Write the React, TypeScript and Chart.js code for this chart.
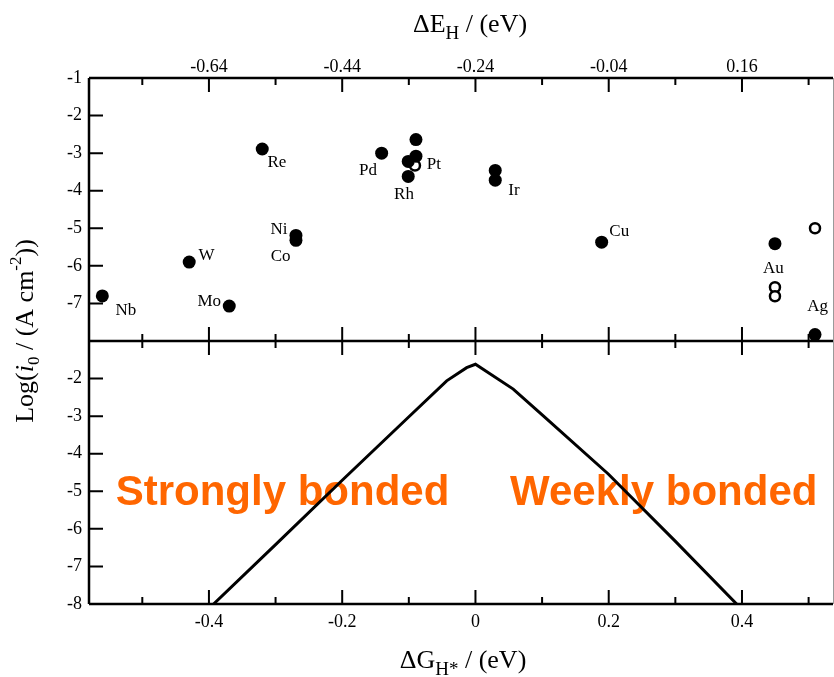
import React, { useEffect, useRef } from 'react';
import { Chart, registerables } from 'chart.js';

Chart.register(...registerables);

// ---- data ----
const filledDG = [-0.560, -0.4296, -0.3695, -0.320, -0.2694, -0.2694, -0.1408, -0.0893, -0.0893, -0.1009, -0.1009, 0.0297, 0.0297, 0.1894, 0.4495, 0.5096];
const filledLogI0 = [-6.8, -5.9, -7.07, -2.89, -5.19, -5.32, -3.0, -2.64, -3.08, -3.22, -3.62, -3.46, -3.72, -5.37, -5.41, -7.83];
const openDG = [-0.0908, 0.4495, 0.4495, 0.5096];
const openLogI0 = [-3.33, -6.57, -6.81, -5.0];

const metalLabels = ['Nb', 'W', 'Mo', 'Re', 'Ni', 'Co', 'Pd', 'Pt', 'Rh', 'Ir', 'Cu', 'Au', 'Ag'];
const metalLabelDG = [-0.5246, -0.4035, -0.3996, -0.2979, -0.2949, -0.2924, -0.1613, -0.0623, -0.1073, 0.0578, 0.2158, 0.447, 0.5136];
const metalLabelLogI0 = [-7.18, -5.73, -6.94, -3.24, -5.03, -5.74, -3.46, -3.31, -4.1, -4.0, -5.08, -6.08, -7.07];

const volcanoDG = [-0.393, -0.3, -0.1984, -0.0983, -0.0432, -0.0132, 0, 0.0567, 0.0993, 0.1993, 0.2994, 0.392];
const volcanoLogI0 = [-8.0, -6.42, -4.68, -2.99, -2.06, -1.71, -1.62, -2.28, -2.95, -4.54, -6.32, -8.0];

const regionTexts = ['Strongly bonded', 'Weekly bonded'];
const regionDG = [-0.54, 0.052];
const regionLogI0 = [-5.36, -5.36];

const xTicksBottom = [-0.4, -0.2, 0, 0.2, 0.4];
const xMinorBottom = [-0.5, -0.3, -0.1, 0.1, 0.3, 0.5];
const xTicksTop = [-0.64, -0.44, -0.24, -0.04, 0.16];
const xMinorTop = [-0.74, -0.54, -0.34, -0.14, 0.06, 0.26];
const yTicksTop = [-7, -6, -5, -4, -3, -2, -1];
const yTicksBottom = [-8, -7, -6, -5, -4, -3, -2];

const X_MIN = -0.58;
const X_MAX = 0.5366;
const E_SHIFT = 0.24;
const Y_MIN = -8;
const Y_MAX = -1;

const SERIF = '"Liberation Serif", "Times New Roman", serif';

type Part = { t: string; font: string; dy?: number };

function drawParts(ctx: CanvasRenderingContext2D, parts: Part[], cx: number, cy: number) {
  let total = 0;
  for (const p of parts) {
    ctx.font = p.font;
    total += ctx.measureText(p.t).width;
  }
  let x = cx - total / 2;
  ctx.textAlign = 'left';
  ctx.textBaseline = 'alphabetic';
  for (const p of parts) {
    ctx.font = p.font;
    ctx.fillText(p.t, x, cy + (p.dy || 0));
    x += ctx.measureText(p.t).width;
  }
}

const customPlugin = {
  id: 'volcanoDecor',
  beforeDatasetsDraw(chart: any) {
    const ctx: CanvasRenderingContext2D = chart.ctx;
    const x = chart.scales.x;
    const yb = chart.scales.yBot;
    ctx.save();
    ctx.fillStyle = '#FF6600';
    ctx.font = 'bold 42px "Liberation Sans", Arial, sans-serif';
    ctx.textAlign = 'left';
    ctx.textBaseline = 'alphabetic';
    regionTexts.forEach((t, i) => {
      ctx.fillText(t, x.getPixelForValue(regionDG[i]), yb.getPixelForValue(regionLogI0[i]));
    });
    ctx.restore();
  },
  afterDatasetsDraw(chart: any) {
    const ctx: CanvasRenderingContext2D = chart.ctx;
    const x = chart.scales.x;
    const yt = chart.scales.yTop;
    ctx.save();
    ctx.fillStyle = '#000';
    ctx.font = `17px ${SERIF}`;
    ctx.textAlign = 'center';
    ctx.textBaseline = 'middle';
    metalLabels.forEach((t, i) => {
      ctx.fillText(t, x.getPixelForValue(metalLabelDG[i]), yt.getPixelForValue(metalLabelLogI0[i]));
    });
    ctx.restore();
  },
  afterDraw(chart: any) {
    const ctx: CanvasRenderingContext2D = chart.ctx;
    const a = chart.chartArea;
    const x = chart.scales.x;
    const xt = chart.scales.xTop;
    const yt = chart.scales.yTop;
    const yb = chart.scales.yBot;
    const mid = yt.bottom;
    ctx.save();
    // right border
    ctx.strokeStyle = '#9a9a9a';
    ctx.lineWidth = 1;
    ctx.beginPath();
    ctx.moveTo(a.right + 0.5, a.top);
    ctx.lineTo(a.right + 0.5, a.bottom);
    ctx.stroke();
    // box lines
    ctx.strokeStyle = '#000';
    ctx.lineWidth = 2.5;
    ctx.beginPath();
    ctx.moveTo(a.left, a.top);
    ctx.lineTo(a.right, a.top);
    ctx.moveTo(a.left, mid);
    ctx.lineTo(a.right, mid);
    ctx.moveTo(a.left, a.bottom);
    ctx.lineTo(a.right, a.bottom);
    ctx.moveTo(a.left, a.top);
    ctx.lineTo(a.left, a.bottom);
    ctx.stroke();
    // inward ticks
    ctx.lineWidth = 2;
    ctx.beginPath();
    const major = 14;
    const minor = 7;
    const bottomTicks = (vals: number[], len: number) => {
      vals.forEach((v) => {
        const px = x.getPixelForValue(v);
        ctx.moveTo(px, a.bottom);
        ctx.lineTo(px, a.bottom - len);
        ctx.moveTo(px, mid);
        ctx.lineTo(px, mid - len);
        ctx.moveTo(px, mid);
        ctx.lineTo(px, mid + len);
      });
    };
    bottomTicks(xTicksBottom, major);
    bottomTicks(xMinorBottom, minor);
    const topTicks = (vals: number[], len: number) => {
      vals.forEach((v) => {
        const px = xt.getPixelForValue(v);
        ctx.moveTo(px, a.top);
        ctx.lineTo(px, a.top + len);
      });
    };
    topTicks(xTicksTop, major);
    topTicks(xMinorTop, minor);
    yTicksTop.forEach((v) => {
      const py = yt.getPixelForValue(v);
      ctx.moveTo(a.left, py);
      ctx.lineTo(a.left + major, py);
    });
    yTicksBottom.forEach((v) => {
      const py = yb.getPixelForValue(v);
      ctx.moveTo(a.left, py);
      ctx.lineTo(a.left + major, py);
    });
    ctx.stroke();

    // axis titles with sub/superscripts
    ctx.fillStyle = '#000';
    const big = `26px ${SERIF}`;
    const small = `19px ${SERIF}`;
    drawParts(ctx, [
      { t: '\u0394E', font: big },
      { t: 'H', font: small, dy: 7 },
      { t: ' / (eV)', font: big },
    ], 470, 32);
    drawParts(ctx, [
      { t: '\u0394G', font: big },
      { t: 'H*', font: small, dy: 7 },
      { t: ' / (eV)', font: big },
    ], 463, 668);
    ctx.translate(33, 331);
    ctx.rotate(-Math.PI / 2);
    const yb2 = `26px ${SERIF}`;
    const ys = `17px ${SERIF}`;
    drawParts(ctx, [
      { t: 'Log(', font: yb2 },
      { t: 'i', font: `italic ${yb2}` },
      { t: '0', font: ys, dy: 6 },
      { t: ' / (A cm', font: yb2 },
      { t: '-2', font: ys, dy: -12 },
      { t: '))', font: yb2 },
    ], 0, 0);
    ctx.restore();
  },
};

export default function App() {
  const ref = useRef<HTMLCanvasElement | null>(null);

  useEffect(() => {
    if (!ref.current) return;
    const tickFont = { family: SERIF, size: 18 };
    const noGrid = { display: false, drawTicks: false, tickLength: 0 };
    const fixH = (h: number) => (s: any) => { s.height = h; s.paddingLeft = 0; s.paddingRight = 0; };
    const fixW = (w: number) => (s: any) => { s.width = w; s.paddingTop = 0; s.paddingBottom = 0; };
    const chart = new Chart(ref.current, {
      type: 'scatter',
      data: {
        datasets: [
          {
            type: 'line',
            label: 'volcano',
            data: volcanoDG.map((v, i) => ({ x: v, y: volcanoLogI0[i] })),
            borderColor: '#000',
            borderWidth: 3,
            pointRadius: 0,
            tension: 0,
            fill: false,
            xAxisID: 'x',
            yAxisID: 'yBot',
          } as any,
          {
            label: 'filled',
            data: filledDG.map((v, i) => ({ x: v, y: filledLogI0[i] })),
            backgroundColor: '#000',
            borderColor: '#000',
            borderWidth: 0,
            pointRadius: 6.5,
            xAxisID: 'x',
            yAxisID: 'yTop',
          },
          {
            label: 'open',
            data: openDG.map((v, i) => ({ x: v, y: openLogI0[i] })),
            backgroundColor: '#fff',
            borderColor: '#000',
            borderWidth: 2.5,
            pointRadius: 5,
            xAxisID: 'x',
            yAxisID: 'yTop',
          },
        ],
      },
      options: {
        responsive: false,
        maintainAspectRatio: false,
        animation: false,
        devicePixelRatio: 1,
        events: [],
        layout: { autoPadding: false, padding: { left: 0, right: 1, top: 0, bottom: 0 } },
        plugins: {
          legend: { display: false },
          tooltip: { enabled: false },
        },
        scales: {
          x: {
            type: 'linear',
            position: 'bottom',
            min: X_MIN,
            max: X_MAX,
            grid: noGrid,
            border: { display: false },
            afterBuildTicks: (s: any) => { s.ticks = xTicksBottom.map((v) => ({ value: v })); },
            afterFit: fixH(73),
            ticks: {
              color: '#000',
              font: tickFont,
              padding: 7,
              maxRotation: 0,
              autoSkip: false,
              callback: (v: any) => (Number(v) === 0 ? '0' : Number(v).toFixed(1)),
            },
          },
          xTop: {
            type: 'linear',
            position: 'top',
            min: X_MIN - E_SHIFT,
            max: X_MAX - E_SHIFT,
            grid: noGrid,
            border: { display: false },
            afterBuildTicks: (s: any) => { s.ticks = xTicksTop.map((v) => ({ value: v })); },
            afterFit: fixH(78),
            ticks: {
              color: '#000',
              font: tickFont,
              padding: 0,
              maxRotation: 0,
              autoSkip: false,
              callback: (v: any) => Number(v).toFixed(2),
            },
          },
          yBot: {
            type: 'linear',
            position: 'left',
            stack: 'panels',
            stackWeight: 1,
            min: Y_MIN,
            max: Y_MAX,
            grid: noGrid,
            border: { display: false },
            afterBuildTicks: (s: any) => { s.ticks = yTicksBottom.map((v) => ({ value: v })); },
            afterFit: fixW(89),
            ticks: { color: '#000', font: tickFont, padding: 7, autoSkip: false, callback: (v: any) => String(v) },
          },
          yTop: {
            type: 'linear',
            position: 'left',
            stack: 'panels',
            stackWeight: 1,
            min: Y_MIN,
            max: Y_MAX,
            grid: noGrid,
            border: { display: false },
            afterBuildTicks: (s: any) => { s.ticks = yTicksTop.map((v) => ({ value: v })); },
            afterFit: fixW(89),
            ticks: { color: '#000', font: tickFont, padding: 7, autoSkip: false, callback: (v: any) => String(v) },
          },
        } as any,
      },
      plugins: [customPlugin],
    });
    return () => chart.destroy();
  }, []);

  return (
    <div style={{ position: 'absolute', left: 0, top: 0, width: 834, height: 677, background: '#fff' }}>
      <canvas ref={ref} width={834} height={677} style={{ display: 'block', width: 834, height: 677 }} />
    </div>
  );
}
